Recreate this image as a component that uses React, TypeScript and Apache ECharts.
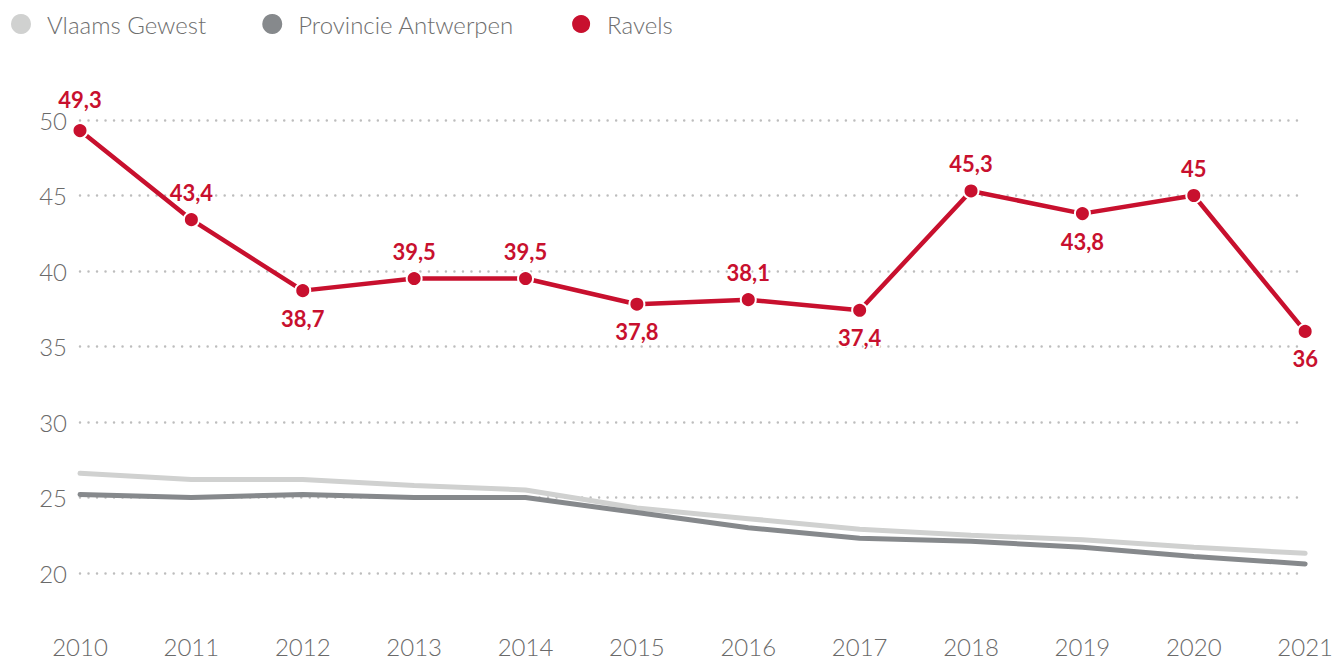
import React, { useEffect, useRef } from "react";
import * as echarts from "echarts";

const years = ["2010", "2011", "2012", "2013", "2014", "2015", "2016", "2017", "2018", "2019", "2020", "2021"];
const vlaamsGewest = [26.6, 26.2, 26.2, 25.8, 25.5, 24.3, 23.6, 22.9, 22.5, 22.2, 21.7, 21.3];
const provincieAntwerpen = [25.2, 25.0, 25.2, 25.0, 25.0, 24.0, 23.0, 22.3, 22.1, 21.7, 21.1, 20.6];
const ravels = [49.3, 43.4, 38.7, 39.5, 39.5, 37.8, 38.1, 37.4, 45.3, 43.8, 45, 36];
const ravelsLabelPos = ["top", "top", "bottom", "top", "top", "bottom", "top", "bottom", "top", "bottom", "top", "bottom"];

const RED = "#C8102E";
const LIGHT = "#D0D1D0";
const DARK = "#86898C";
const FONT = "Lato, 'Open Sans', sans-serif";

export default function App() {
  const ref = useRef<HTMLDivElement>(null);
  useEffect(() => {
    if (!ref.current) return;
    const chart = echarts.init(ref.current, undefined, { renderer: "svg" });
    chart.setOption({
      animation: false,
      textStyle: { fontFamily: FONT },
      legend: {
        left: 6,
        top: 7,
        icon: "circle",
        itemWidth: 20,
        itemHeight: 20,
        itemGap: 56,
        textStyle: { fontSize: 24, color: "#6e6e6e", fontWeight: 300, fontFamily: FONT, padding: [0, 0, 0, 11] },
        data: ["Vlaams Gewest", "Provincie Antwerpen", "Ravels"],
      },
      grid: { left: 80, right: 29, top: 120, bottom: 87, containLabel: false },
      xAxis: {
        type: "category",
        data: years,
        boundaryGap: false,
        axisLine: { show: false },
        axisTick: { show: false },
        axisLabel: { color: "#6a6a6a", fontSize: 24, lineHeight: 18, fontWeight: 300, margin: 64, fontFamily: FONT },
      },
      yAxis: {
        type: "value",
        min: 20,
        max: 50,
        interval: 5,
        axisLine: { show: false },
        axisTick: { show: false },
        axisLabel: { color: "#6a6a6a", fontSize: 24, lineHeight: 16, fontWeight: 300, margin: 13, fontFamily: FONT },
        splitLine: { lineStyle: { color: "#bdbdbd", type: [0.01, 8.5], width: 2.5, cap: "round" } },
      },
      series: [
        {
          name: "Vlaams Gewest",
          type: "line",
          data: vlaamsGewest,
          symbol: "none",
          itemStyle: { color: LIGHT },
          lineStyle: { color: LIGHT, width: 5, cap: "round" },
          z: 2,
        },
        {
          name: "Provincie Antwerpen",
          type: "line",
          data: provincieAntwerpen,
          symbol: "none",
          itemStyle: { color: DARK },
          lineStyle: { color: DARK, width: 5, cap: "round" },
          z: 3,
        },
        {
          name: "Ravels",
          type: "line",
          data: ravels.map((v, i) => ({
            value: v,
            label: i === 0
              ? { position: ravelsLabelPos[i], offset: [0, -4] }
              : { position: ravelsLabelPos[i] },
          })),
          symbol: "circle",
          symbolSize: 15,
          itemStyle: { color: RED, borderColor: "#fff", borderWidth: 2 },
          lineStyle: { color: RED, width: 4.5 },
          z: 4,
          label: {
            show: true,
            color: RED,
            fontSize: 22,
            lineHeight: 18,
            fontWeight: "bold",
            fontFamily: FONT,
            distance: 10,
            textBorderColor: "#fff",
            textBorderWidth: 3,
            formatter: (p: any) => String(p.value).replace(".", ","),
          },
        },
      ],
    });
    return () => chart.dispose();
  }, []);
  return <div ref={ref} style={{ position: "absolute", left: 0, top: 0, width: 1336, height: 660 }} />;
}
